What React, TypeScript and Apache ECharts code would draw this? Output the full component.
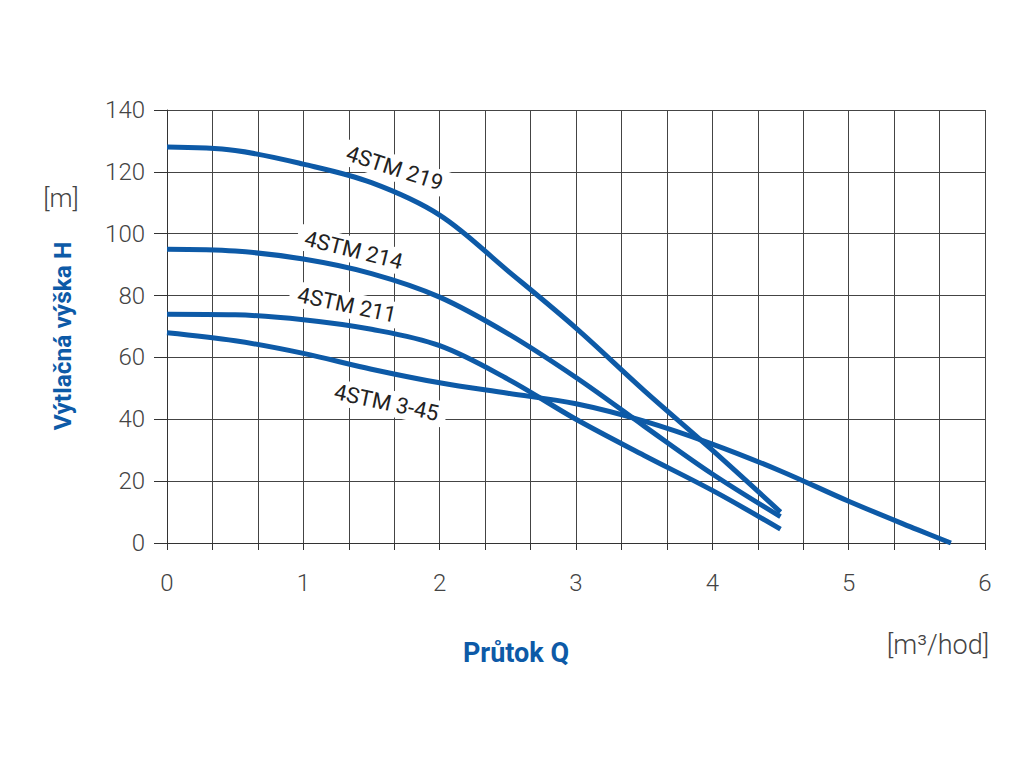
import React, { useEffect, useRef } from "react";
import * as echarts from "echarts";

const qPump = [0, 0.5, 1, 1.5, 2, 2.5, 3, 3.5, 4, 4.5];
const h219 = [128, 126.9, 122.5, 116.5, 106, 88, 69.5, 49.3, 30, 10];
const h214 = [95, 94.4, 91.8, 87.1, 79.5, 67.7, 53.5, 37.8, 22.3, 8.5];
const h211 = [74, 73.8, 72.2, 69.1, 63.8, 53, 40, 28.3, 17, 4.5];
const q345 = [0, 0.5, 1, 1.5, 2, 2.5, 3, 3.5, 4, 4.5, 5, 5.5, 5.75];
const h345 = [68, 65.4, 61.3, 56.2, 51.8, 48.4, 45, 39.4, 32, 23.3, 13.5, 4.4, 0];

const seriesNames = ["4STM 219", "4STM 214", "4STM 211", "4STM 3-45"];
// label anchor [Q, H, rotation deg (clockwise)]
const labelPos: [number, number, number][] = [
  [1.67, 121.2, 18],
  [1.37, 94.7, 14],
  [1.32, 77, 12],
  [1.61, 45.4, 12],
];

const xTicks = [0, 1, 2, 3, 4, 5, 6];
const yTicks = [0, 20, 40, 60, 80, 100, 120, 140];

const BLUE = "#0d5aa7";
const FONT = "Roboto, 'Noto Sans', sans-serif";

const zip = (xs: number[], ys: number[]) => xs.map((x, i) => [x, ys[i]]);

export default function App() {
  const ref = useRef<HTMLDivElement>(null);
  useEffect(() => {
    document.body.style.margin = "0";
    const chart = echarts.init(ref.current!, null, { renderer: "svg" });
    const data = [zip(qPump, h219), zip(qPump, h214), zip(qPump, h211), zip(q345, h345)];
    chart.setOption({
      animation: false,
      backgroundColor: "#fff",
      grid: { left: 167, top: 110, right: 39, bottom: 225, containLabel: false },
      xAxis: {
        type: "value",
        min: 0,
        max: 6,
        interval: 1 / 3,
        axisLine: { show: true, lineStyle: { color: "#333", width: 1 } },
        axisTick: { show: true, length: 7, lineStyle: { color: "#333" } },
        splitLine: { show: true, lineStyle: { color: "#444", width: 1 } },
        axisLabel: {
          margin: 28,
          fontSize: 24,
          fontWeight: 300,
          color: "#444",
          fontFamily: FONT,
          formatter: (v: number) => {
            const r = Math.round(v);
            return Math.abs(v - r) < 1e-6 && xTicks.includes(r) ? String(r) : "";
          },
        },
      },
      yAxis: {
        type: "value",
        min: 0,
        max: 140,
        interval: 20,
        axisLine: { show: true, lineStyle: { color: "#333", width: 1 } },
        axisTick: { show: true, length: 13, lineStyle: { color: "#333" } },
        splitLine: { show: true, lineStyle: { color: "#444", width: 1 } },
        axisLabel: {
          margin: 22,
          fontSize: 24,
          fontWeight: 300,
          color: "#444",
          fontFamily: FONT,
          formatter: (v: number) => (yTicks.includes(v) ? String(v) : ""),
        },
      },
      series: data.map((d, i) => ({
        name: seriesNames[i],
        type: "line",
        data: d,
        smooth: 0.35,
        showSymbol: false,
        symbol: "none",
        z: 3,
        lineStyle: { color: BLUE, width: 5 },
      })),
    });
    const graphics: any[] = labelPos.map(([q, h, rot], i) => {
      const p = chart.convertToPixel({ xAxisIndex: 0, yAxisIndex: 0 }, [q, h]) as number[];
      return {
        type: "text",
        x: p[0],
        y: p[1],
        rotation: (-rot * Math.PI) / 180,
        z: 2,
        style: {
          text: seriesNames[i],
          fontSize: 22,
          fontFamily: FONT,
          fill: "#222",
          align: "center",
          verticalAlign: "middle",
          backgroundColor: "#fff",
          padding: [2, 8],
        },
      };
    });
    graphics.push(
      {
        type: "text",
        x: 62,
        y: 336,
        rotation: Math.PI / 2,
        style: {
          text: "Výtlačná výška H",
          fontSize: 24.5,
          fontWeight: "bold",
          fontFamily: FONT,
          fill: BLUE,
          align: "center",
          verticalAlign: "middle",
        },
      },
      {
        type: "text",
        x: 61,
        y: 198,
        style: {
          text: "[m]",
          fontSize: 26,
          fontWeight: 300,
          fontFamily: FONT,
          fill: "#444",
          align: "center",
          verticalAlign: "middle",
        },
      },
      {
        type: "text",
        x: 516,
        y: 653,
        style: {
          text: "Průtok Q",
          fontSize: 27,
          fontWeight: "bold",
          fontFamily: FONT,
          fill: BLUE,
          align: "center",
          verticalAlign: "middle",
        },
      },
      {
        type: "text",
        x: 938,
        y: 645,
        style: {
          text: "[m³/hod]",
          fontSize: 27,
          fontWeight: 300,
          fontFamily: FONT,
          fill: "#444",
          align: "center",
          verticalAlign: "middle",
        },
      }
    );
    chart.setOption({ graphic: graphics });
    return () => chart.dispose();
  }, []);
  return <div ref={ref} style={{ width: 1024, height: 768 }} />;
}
